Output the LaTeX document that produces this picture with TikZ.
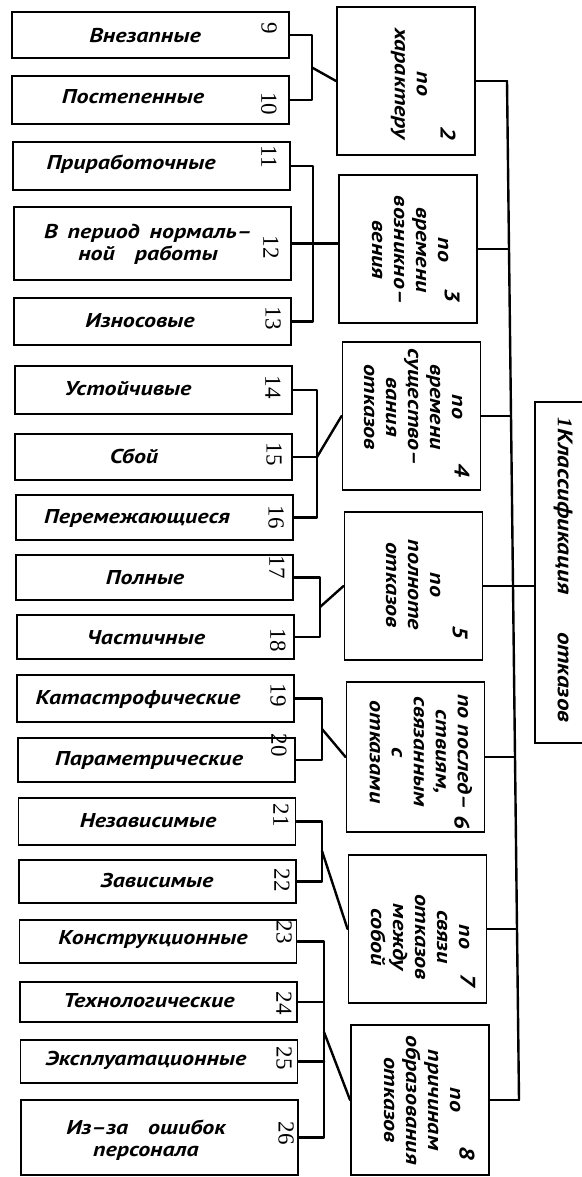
\documentclass[tikz,border=0pt]{standalone}
\usepackage{fontspec}
\newfontfamily\hand[FakeStretch=1.2]{PT Sans}
\newfontfamily\numf{Liberation Serif}
\begin{document}
\begin{tikzpicture}[x=1pt,y=-1pt,
  box/.style={draw,line width=1.9pt,inner sep=0pt},
  lbox/.style={box,minimum width=277pt},
  mbox/.style={box,minimum width=138pt,minimum height=148pt},
  wire/.style={line width=2.4pt,line cap=round,line join=round},
  lbl/.style={font=\hand\bfseries\itshape\fontsize{20}{22}\selectfont,inner sep=0pt,align=center},
  rlbl/.style={lbl,rotate=-90},
  num/.style={font=\numf\fontsize{23}{23}\selectfont,rotate=-90,inner sep=0pt},
  hnum/.style={font=\hand\bfseries\itshape\fontsize{21}{21}\selectfont,rotate=-90,inner sep=0pt}]
\useasboundingbox (0,0) rectangle (581,1177);
% left boxes
\node[lbox,minimum height=46pt] (n9)  at (150.3,35) {};
\node[lbox,minimum height=48pt] (n10) at (150.9,100) {};
\node[lbox,minimum height=48pt] (n11) at (151.4,166) {};
\node[lbox,minimum height=73pt] (n12) at (152.1,243.5) {};
\node[lbox,minimum height=47pt] (n13) at (152.7,321.5) {};
\node[lbox,minimum height=48pt] (n14) at (153.3,390) {};
\node[lbox,minimum height=46pt] (n15) at (153.9,457) {};
\node[lbox,minimum height=45pt] (n16) at (154.4,517.5) {};
\node[lbox,minimum height=45pt] (n17) at (154.9,577.5) {};
\node[lbox,minimum height=44pt] (n18) at (155.4,637) {};
\node[lbox,minimum height=47pt] (n19) at (155.9,698.5) {};
\node[lbox,minimum height=44pt] (n20) at (156.5,760) {};
\node[lbox,minimum height=47pt] (n21) at (157,821.5) {};
\node[lbox,minimum height=43pt] (n22) at (157.5,881.5) {};
\node[lbox,minimum height=43pt] (n23) at (158,941.5) {};
\node[lbox,minimum height=40pt] (n24) at (158.5,1002) {};
\node[lbox,minimum height=43pt] (n25) at (159,1061.5) {};
\node[lbox,minimum height=75pt] (n26) at (159.7,1137.5) {};
% left texts
\node[lbl] (t9)  at (145,36) {Внезапные};
\node[lbl] (t10) at (133,97) {Постепенные};
\node[lbl] (t11) at (131,164) {Приработочные};
\node[lbl] (t12) at (148,244) {В\enspace период\enspace нормаль–\\ной\quad работы};
\node[lbl] (t13) at (140,321) {Износовые};
\node[lbl] (t14) at (128,389) {Устойчивые};
\node[lbl] (t15) at (134,456) {Сбой};
\node[lbl] (t16) at (137,518) {Перемежающиеся};
\node[lbl] (t17) at (145,578) {Полные};
\node[lbl] (t18) at (146,638) {Частичные};
\node[lbl] (t19) at (138,699) {Катастрофические};
\node[lbl] (t20) at (149,760) {Параметрические};
\node[lbl] (t21) at (148,821) {Независимые};
\node[lbl] (t22) at (157,881) {Зависимые};
\node[lbl] (t23) at (153,940) {Конструкционные};
\node[lbl] (t24) at (149,1001) {Технологические};
\node[lbl] (t25) at (146,1060) {Эксплуатационные};
\node[lbl] (t26) at (146,1140) {Из–за\quad ошибок\\персонала};
% left numbers
\node[num] (k9)  at (269,28) {9};
\node[num] (k10) at (269,104) {10};
\node[num] (k11) at (269,157) {11};
\node[num] (k12) at (271,247) {12};
\node[num] (k13) at (273,318) {13};
\node[num] (k14) at (273,387) {14};
\node[num] (k15) at (274,454) {15};
\node[num] (k16) at (276,517) {16};
\node[num] (k17) at (277,567) {17};
\node[num] (k18) at (278,640) {18};
\node[num] (k19) at (278,695) {19};
\node[num] (k20) at (279,745) {20};
\node[num] (k21) at (281,815) {21};
\node[num] (k22) at (282,880) {22};
\node[num] (k23) at (284,932) {23};
\node[num] (k24) at (284,1003) {24};
\node[num] (k25) at (284,1058) {25};
\node[num] (k26) at (286,1133) {26};
% middle boxes
\node[mbox] (n2) at (406,81) {};
\node[mbox] (n3) at (408,249) {};
\node[mbox] (n4) at (411.5,416) {};
\node[mbox] (n5) at (413.5,586) {};
\node[mbox,minimum height=150pt] (n6) at (415.5,757) {};
\node[mbox] (n7) at (417.5,929) {};
\node[mbox,minimum height=150pt] (n8) at (420,1100) {};
\node[rlbl] (t2) at (409,84) {по\\характеру};
\node[rlbl] (t3) at (410,250) {по\\времени\\возникно–\\вения};
\node[rlbl] (t4) at (413,407) {по\\времени\\существо–\\вания\\отказов};
\node[rlbl] (t5) at (413,585) {по\\полноте\\отказов};
\node[rlbl] (t6) at (421,752) {по послед–\\ствиям,\\связанным\\с\\отказами};
\node[rlbl] (t7) at (420,937) {по\\связи\\отказов\\между\\собой};
\node[rlbl] (t8) at (422,1100) {по\\причинам\\образования\\отказов};
\node[hnum] (k2) at (448,133) {2};
\node[hnum] (k3) at (452,295) {3};
\node[hnum] (k4) at (462,470) {4};
\node[hnum] (k5) at (460,632) {5};
\node[hnum] (k6) at (462,822) {6};
\node[hnum] (k7) at (468,980) {7};
\node[hnum] (k8) at (467,1153) {8};
% root box (its right side lies beyond the page)
\node[box,minimum width=100pt,minimum height=341pt] (n1) at (585,572.5) {};
\node[rlbl,font=\hand\bfseries\itshape\fontsize{21}{22}\selectfont] (t1) at (563,570) {{\numf 1}Классификация\hspace{38pt}отказов};
% bus
\coordinate (b2) at (507,81);
\coordinate (b3) at (509,249);
\coordinate (b4) at (511,416);
\coordinate (b5) at (513,586);
\coordinate (b6) at (515,757);
\coordinate (b7) at (517,929);
\coordinate (b8) at (519,1100);
\draw[wire] (b2) -- (b3) -- (b4) -- (b5) -- (b6) -- (b7) -- (b8);
\draw[wire] (n2.east) -- (b2);
\draw[wire] (n3.east) -- (b3);
\draw[wire] (n4.east) -- (b4);
\draw[wire] (n5.east) -- (b5);
\draw[wire] (n6.east) -- (b6);
\draw[wire] (n7.east) -- (b7);
\draw[wire] (n8.east) -- (b8);
\draw[wire] (b5) -- (b5 -| n1.west);
% junctions
\coordinate (jA) at (312,67.5);
\coordinate (jB) at (313,243.5);
\coordinate (jC) at (317,457);
\coordinate (jD) at (320,607);
\coordinate (jE) at (322,729);
\coordinate (jF) at (322,851);
\coordinate (jG) at (324,1032);
\draw[wire] (n9.east) -| (jA) |- (n10.east);
\draw[wire] (jA) -- (n2.west);
\draw[wire] (n11.east) -| (jB) |- (n13.east);
\draw[wire] (n12.east) -- (n12.east -| n3.west);
\draw[wire] (n14.east) -| (jC) |- (n16.east);
\draw[wire] (n15.east) -- (jC);
\draw[wire] (jC) -- (n4.west);
\draw[wire] (n17.east) -| (jD) |- (n18.east);
\draw[wire] (jD) -- (n5.west);
\draw[wire] (n19.east) -| (jE) |- (n20.east);
\draw[wire] (jE) -- (n6.west);
\draw[wire] (n21.east) -| (jF) |- (n22.east);
\draw[wire] (jF) -- (n7.west);
\draw[wire] (n23.east) -| (jG) |- (n26.east);
\draw[wire] (n24.east) -- (n24.east -| jG);
\draw[wire] (n25.east) -- (n25.east -| jG);
\draw[wire] (jG) -- (n8.west);
\end{tikzpicture}
\end{document}
